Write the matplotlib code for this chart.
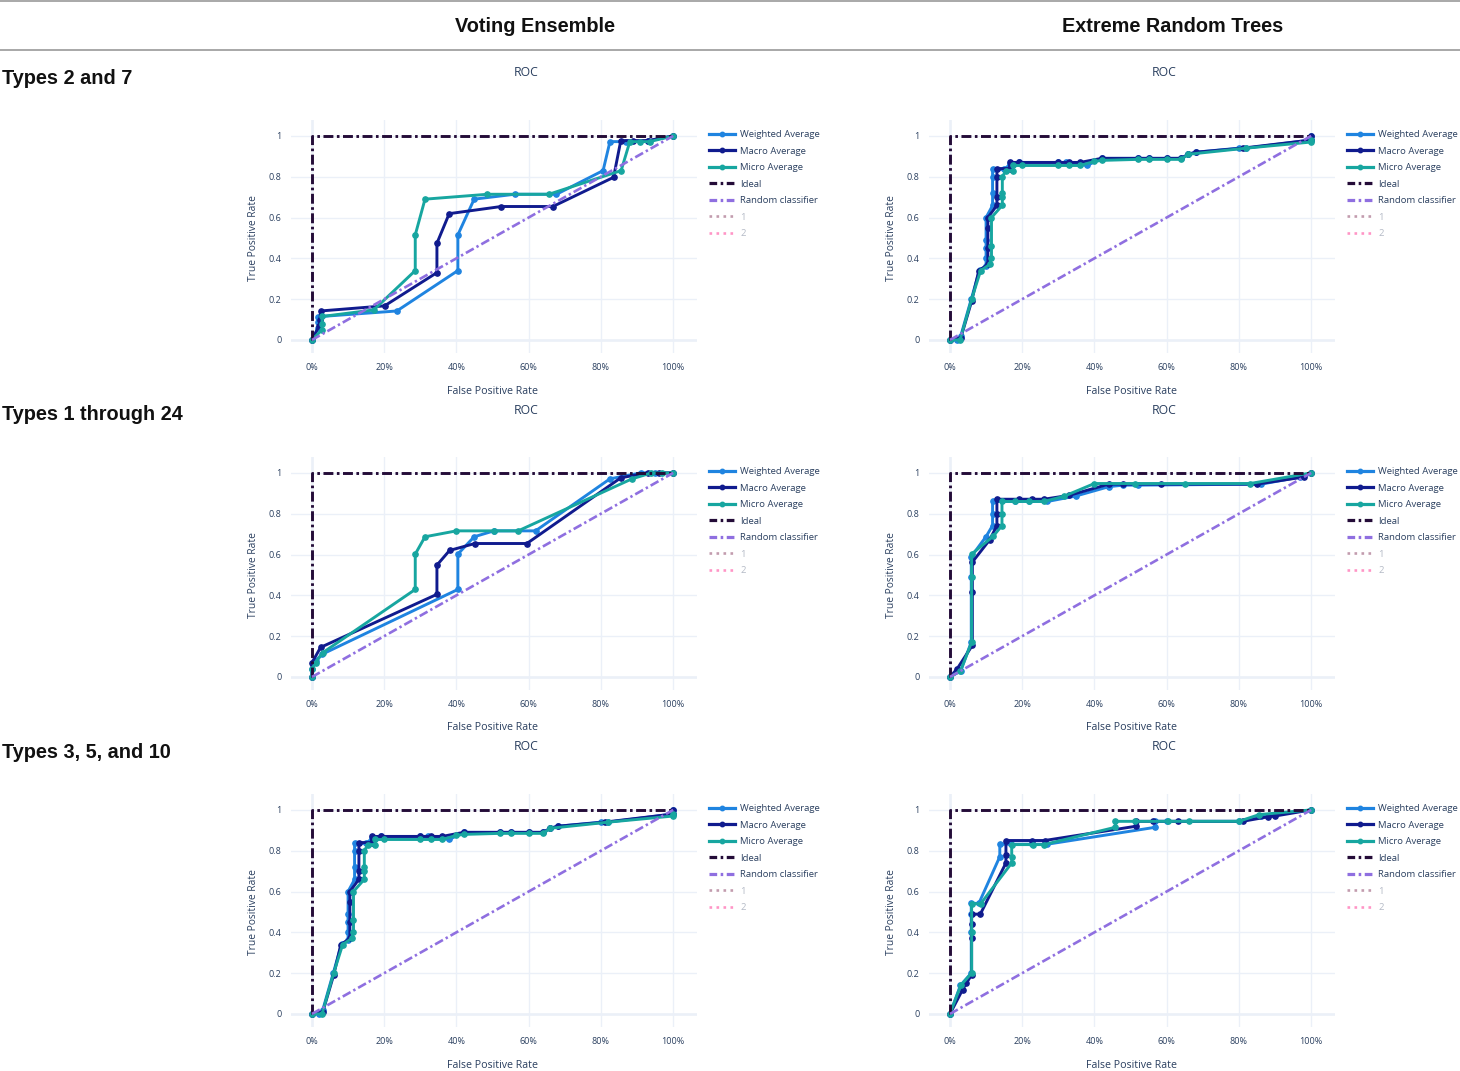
import matplotlib
matplotlib.use("Agg")
import matplotlib.pyplot as plt
from matplotlib.lines import Line2D
from matplotlib import font_manager

W, H = 1460, 1071

# column / row labels
COLUMNS = ["Voting Ensemble", "Extreme Random Trees"]
ROWS = ["Types 2 and 7", "Types 1 through 24", "Types 3, 5, and 10"]
X_TICKS = [0, 0.2, 0.4, 0.6, 0.8, 1.0]
X_TICK_LABELS = ["0%", "20%", "40%", "60%", "80%", "100%"]
Y_TICKS = [0, 0.2, 0.4, 0.6, 0.8, 1.0]
Y_TICK_LABELS = ["0", "0.2", "0.4", "0.6", "0.8", "1"]
LEGEND_LABELS = ["Weighted Average", "Macro Average", "Micro Average",
                 "Ideal", "Random classifier", "1", "2"]

# reference lines
IDEAL_FPR = [0, 0, 1]
IDEAL_TPR = [0, 1, 1]
RANDOM_FPR = [0, 1]
RANDOM_TPR = [0, 1]

# ---- Voting Ensemble, types 2 and 7
ve27_w_fpr = [0, 0.018, 0.018, 0.018, 0.235, 0.404, 0.404, 0.449, 0.561, 0.677, 0.806, 0.825, 0.87, 0.93, 1.0]
ve27_w_tpr = [0, 0.06, 0.09, 0.114, 0.142, 0.34, 0.515, 0.69, 0.714, 0.714, 0.83, 0.972, 0.972, 0.975, 1.0]
ve27_m_fpr = [0, 0.02, 0.022, 0.024, 0.201, 0.346, 0.346, 0.38, 0.524, 0.667, 0.835, 0.855, 0.89, 0.93, 1.0]
ve27_m_tpr = [0, 0.07, 0.10, 0.142, 0.167, 0.33, 0.474, 0.619, 0.654, 0.654, 0.797, 0.977, 0.977, 0.977, 1.0]
ve27_u_fpr = [0, 0.028, 0.028, 0.028, 0.171, 0.286, 0.286, 0.313, 0.486, 0.656, 0.856, 0.88, 0.909, 0.935, 1.0]
ve27_u_tpr = [0, 0.05, 0.08, 0.115, 0.147, 0.34, 0.515, 0.69, 0.714, 0.714, 0.83, 0.972, 0.972, 0.972, 1.0]

# ---- Extreme Random Trees, types 2 and 7
ert27_w_fpr = [0, 0.02, 0.03, 0.059, 0.082, 0.10, 0.10, 0.10, 0.10, 0.10, 0.118, 0.118, 0.118, 0.118, 0.15, 0.166,
               0.19, 0.30, 0.32, 0.36, 0.38, 0.42, 0.52, 0.55, 0.60, 0.64, 0.66, 0.68, 0.80, 0.82, 1.0, 1.0]
ert27_w_tpr = [0, 0, 0.02, 0.2, 0.343, 0.36, 0.40, 0.45, 0.49, 0.6, 0.659, 0.72, 0.80, 0.836, 0.836, 0.86,
               0.87, 0.87, 0.87, 0.86, 0.855, 0.89, 0.89, 0.89, 0.89, 0.89, 0.91, 0.92, 0.94, 0.94, 0.98, 1.0]
ert27_m_fpr = [0, 0.03, 0.06, 0.08, 0.105, 0.105, 0.105, 0.105, 0.13, 0.13, 0.13, 0.13, 0.165, 0.165,
               0.19, 0.30, 0.33, 0.36, 0.42, 0.52, 0.55, 0.60, 0.64, 0.66, 0.68, 0.81, 1.0, 1.0]
ert27_m_tpr = [0, 0.01, 0.19, 0.34, 0.37, 0.45, 0.55, 0.6, 0.66, 0.70, 0.80, 0.84, 0.84, 0.87,
               0.87, 0.87, 0.87, 0.87, 0.89, 0.89, 0.89, 0.89, 0.89, 0.91, 0.92, 0.94, 0.98, 1.0]
ert27_u_fpr = [0, 0.028, 0.06, 0.085, 0.11, 0.115, 0.115, 0.115, 0.145, 0.145, 0.145, 0.145, 0.155, 0.175, 0.175,
               0.20, 0.30, 0.33, 0.36, 0.40, 0.42, 0.52, 0.55, 0.60, 0.64, 0.66, 0.82, 1.0, 1.0]
ert27_u_tpr = [0, 0, 0.2, 0.34, 0.37, 0.40, 0.46, 0.6, 0.66, 0.70, 0.72, 0.80, 0.83, 0.83, 0.855,
               0.855, 0.855, 0.855, 0.855, 0.875, 0.88, 0.885, 0.885, 0.885, 0.885, 0.91, 0.94, 0.97, 0.98]

# ---- Voting Ensemble, types 1 through 24
ve124_w_fpr = [0, 0, 0.01, 0.028, 0.404, 0.404, 0.449, 0.504, 0.619, 0.825, 0.91, 0.95, 1.0]
ve124_w_tpr = [0, 0.04, 0.08, 0.111, 0.429, 0.602, 0.687, 0.716, 0.716, 0.971, 1.0, 1.0, 1.0]
ve124_m_fpr = [0, 0, 0.024, 0.346, 0.346, 0.381, 0.451, 0.595, 0.855, 0.929, 0.96, 1.0]
ve124_m_tpr = [0, 0.07, 0.145, 0.405, 0.548, 0.62, 0.654, 0.654, 0.976, 1.0, 1.0, 1.0]
ve124_u_fpr = [0, 0, 0.01, 0.03, 0.286, 0.286, 0.313, 0.40, 0.504, 0.571, 0.886, 0.94, 0.97, 1.0]
ve124_u_tpr = [0, 0.04, 0.07, 0.119, 0.429, 0.602, 0.687, 0.716, 0.716, 0.716, 0.971, 1.0, 1.0, 1.0]

# ---- Extreme Random Trees, types 1 through 24
ert124_w_fpr = [0, 0.03, 0.059, 0.059, 0.059, 0.10, 0.118, 0.118, 0.118, 0.18, 0.22, 0.27, 0.349, 0.441, 0.48, 0.52, 0.862, 0.97, 1.0]
ert124_w_tpr = [0, 0.03, 0.171, 0.488, 0.59, 0.688, 0.742, 0.80, 0.86, 0.86, 0.86, 0.86, 0.887, 0.933, 0.94, 0.94, 0.945, 0.98, 1.0]
ert124_m_fpr = [0, 0.02, 0.062, 0.062, 0.062, 0.11, 0.13, 0.13, 0.13, 0.19, 0.226, 0.26, 0.33, 0.44, 0.48, 0.585, 0.849, 0.98, 1.0]
ert124_m_tpr = [0, 0.04, 0.155, 0.416, 0.563, 0.672, 0.742, 0.80, 0.871, 0.871, 0.871, 0.871, 0.89, 0.945, 0.945, 0.945, 0.945, 0.98, 1.0]
ert124_u_fpr = [0, 0.029, 0.06, 0.06, 0.06, 0.12, 0.144, 0.144, 0.144, 0.18, 0.22, 0.26, 0.315, 0.40, 0.513, 0.652, 0.831, 1.0]
ert124_u_tpr = [0, 0.029, 0.17, 0.49, 0.602, 0.69, 0.742, 0.80, 0.86, 0.86, 0.86, 0.86, 0.885, 0.948, 0.948, 0.948, 0.948, 1.0]

# ---- Voting Ensemble, types 3, 5, and 10 (same curves as ERT 2 and 7 in the picture)
ve3510_w_fpr = list(ert27_w_fpr)
ve3510_w_tpr = list(ert27_w_tpr)
ve3510_m_fpr = list(ert27_m_fpr)
ve3510_m_tpr = list(ert27_m_tpr)
ve3510_u_fpr = list(ert27_u_fpr)
ve3510_u_tpr = list(ert27_u_tpr)

# ---- Extreme Random Trees, types 3, 5, and 10
ert3510_w_fpr = [0, 0.029, 0.059, 0.059, 0.059, 0.059, 0.08, 0.138, 0.138, 0.169, 0.228, 0.27, 0.569, 0.569, 0.60, 0.80, 0.86, 1.0]
ert3510_w_tpr = [0, 0.14, 0.2, 0.40, 0.49, 0.542, 0.542, 0.771, 0.832, 0.832, 0.832, 0.832, 0.915, 0.944, 0.944, 0.944, 0.97, 1.0]
ert3510_m_fpr = [0, 0.035, 0.045, 0.06, 0.06, 0.06, 0.06, 0.084, 0.155, 0.155, 0.155, 0.226, 0.262, 0.515, 0.515, 0.562, 0.631, 0.81, 0.88, 0.90, 1.0]
ert3510_m_tpr = [0, 0.119, 0.15, 0.191, 0.37, 0.44, 0.489, 0.489, 0.74, 0.78, 0.85, 0.85, 0.85, 0.92, 0.944, 0.944, 0.944, 0.944, 0.966, 0.97, 1.0]
ert3510_u_fpr = [0, 0.03, 0.06, 0.06, 0.06, 0.085, 0.171, 0.171, 0.171, 0.23, 0.26, 0.458, 0.458, 0.513, 0.603, 0.663, 0.80, 0.856, 1.0]
ert3510_u_tpr = [0, 0.14, 0.20, 0.40, 0.54, 0.54, 0.74, 0.77, 0.83, 0.83, 0.83, 0.915, 0.944, 0.944, 0.944, 0.944, 0.944, 0.977, 1.0]

panels = [
    [(ve27_w_fpr, ve27_w_tpr, ve27_m_fpr, ve27_m_tpr, ve27_u_fpr, ve27_u_tpr),
     (ert27_w_fpr, ert27_w_tpr, ert27_m_fpr, ert27_m_tpr, ert27_u_fpr, ert27_u_tpr)],
    [(ve124_w_fpr, ve124_w_tpr, ve124_m_fpr, ve124_m_tpr, ve124_u_fpr, ve124_u_tpr),
     (ert124_w_fpr, ert124_w_tpr, ert124_m_fpr, ert124_m_tpr, ert124_u_fpr, ert124_u_tpr)],
    [(ve3510_w_fpr, ve3510_w_tpr, ve3510_m_fpr, ve3510_m_tpr, ve3510_u_fpr, ve3510_u_tpr),
     (ert3510_w_fpr, ert3510_w_tpr, ert3510_m_fpr, ert3510_m_tpr, ert3510_u_fpr, ert3510_u_tpr)],
]

# colours
C_WEIGHTED = "#1f84e0"
C_MACRO = "#101b8e"
C_MICRO = "#17a6a0"
C_IDEAL = "#240c38"
C_RANDOM = "#8f6fe0"
C_ONE = "#9a5a78"
C_TWO = "#ff4fa0"
TEXT = "#2a3f5f"
GRID = "#ebf0f8"

# fonts
available = {f.name for f in font_manager.fontManager.ttflist}
PLOT_FONT = ["Open Sans", "DejaVu Sans"]
HEAD_FONT = ["Liberation Sans Narrow" if "Liberation Sans Narrow" in available else "Liberation Sans", "DejaVu Sans"]
plt.rcParams["font.family"] = PLOT_FONT

DASHDOT = (3.4, 1.2, 0.9, 1.2)


def fx(px):
    return px / W


def fy(py):
    return 1 - py / H


fig = plt.figure(figsize=(W / 100, H / 100), dpi=100)
fig.patch.set_facecolor("white")

# header rules and column titles
fig.add_artist(Line2D([0, 1], [fy(1), fy(1)], color="#9a9a9a", lw=1.2))
fig.add_artist(Line2D([0, 1], [fy(50), fy(50)], color="#9a9a9a", lw=1.2))
for name, cx in zip(COLUMNS, [535, 1173]):
    fig.text(fx(cx), fy(27), name, ha="center", va="center", fontsize=14.3,
             fontweight="bold", family=HEAD_FONT, color="#111111")

ROW_STEP = 337
COL_STEP = 638

for r in range(3):
    oy = r * ROW_STEP
    fig.text(fx(2), fy(78 + oy), ROWS[r], ha="left", va="center", fontsize=14.3,
             fontweight="bold", family=HEAD_FONT, color="#111111")
    for c in range(2):
        ox = c * COL_STEP
        left, right, top, bottom = 291 + ox, 697 + ox, 120 + oy, 353 + oy
        ax = fig.add_axes([fx(left), fy(bottom), (right - left) / W, (bottom - top) / H])
        w_fpr, w_tpr, m_fpr, m_tpr, u_fpr, u_tpr = panels[r][c]

        ax.plot(w_fpr, w_tpr, color=C_WEIGHTED, lw=2.1, marker="o", ms=3.8, zorder=3)
        ax.plot(m_fpr, m_tpr, color=C_MACRO, lw=2.1, marker="o", ms=3.8, zorder=3)
        ax.plot(u_fpr, u_tpr, color=C_MICRO, lw=2.1, marker="o", ms=3.8, zorder=3)
        ax.plot(IDEAL_FPR, IDEAL_TPR, color=C_IDEAL, lw=2.1, dashes=DASHDOT, zorder=4)
        ax.plot(RANDOM_FPR, RANDOM_TPR, color=C_RANDOM, lw=1.9, dashes=DASHDOT, zorder=4)

        ax.set_xlim(-0.058, 1.066)
        ax.set_ylim(-0.064, 1.078)
        ax.set_xticks(X_TICKS)
        ax.set_xticklabels(X_TICK_LABELS)
        ax.set_yticks(Y_TICKS)
        ax.set_yticklabels(Y_TICK_LABELS)
        ax.tick_params(length=0, labelsize=6.5, colors=TEXT, pad=7)
        ax.grid(True, color=GRID, lw=1)
        ax.axhline(0, color=GRID, lw=1.8, zorder=0.5)
        ax.axvline(0, color=GRID, lw=1.8, zorder=0.5)
        ax.set_axisbelow(True)
        for s in ax.spines.values():
            s.set_visible(False)

        # titles and axis labels
        fig.text(fx(526 + ox), fy(73 + oy), "ROC", ha="center", va="center", fontsize=8.8, color=TEXT)
        fig.text(fx(493 + ox), fy(391 + oy), "False Positive Rate", ha="center", va="center",
                 fontsize=7.7, color=TEXT)
        fig.text(fx(253 + ox), fy(238 + oy), "True Positive Rate", ha="center", va="center",
                 fontsize=7.4, color=TEXT, rotation=90)

        handles = [
            Line2D([], [], color=C_WEIGHTED, lw=2.3, marker="o", ms=3.2),
            Line2D([], [], color=C_MACRO, lw=2.3, marker="o", ms=3.2),
            Line2D([], [], color=C_MICRO, lw=2.3, marker="o", ms=3.2),
            Line2D([], [], color=C_IDEAL, lw=2.3, dashes=(2.4, 1.1, 0.8, 1.1)),
            Line2D([], [], color=C_RANDOM, lw=2.3, dashes=(2.4, 1.1, 0.8, 1.1)),
            Line2D([], [], color=C_ONE, lw=1.9, ls=":", alpha=0.6),
            Line2D([], [], color=C_TWO, lw=1.9, ls=":", alpha=0.6),
        ]
        leg = ax.legend(handles, LEGEND_LABELS, loc="upper left",
                        bbox_to_anchor=(fx(709 + ox), fy(130 + oy)),
                        bbox_transform=fig.transFigure, frameon=False,
                        fontsize=6.8, handlelength=2.8, handletextpad=0.5,
                        labelspacing=0.80, borderpad=0, borderaxespad=0)
        for i, t in enumerate(leg.get_texts()):
            t.set_color(TEXT if i < 5 else "#b4bac6")

fig.savefig("out.png", dpi=100, facecolor="white")
